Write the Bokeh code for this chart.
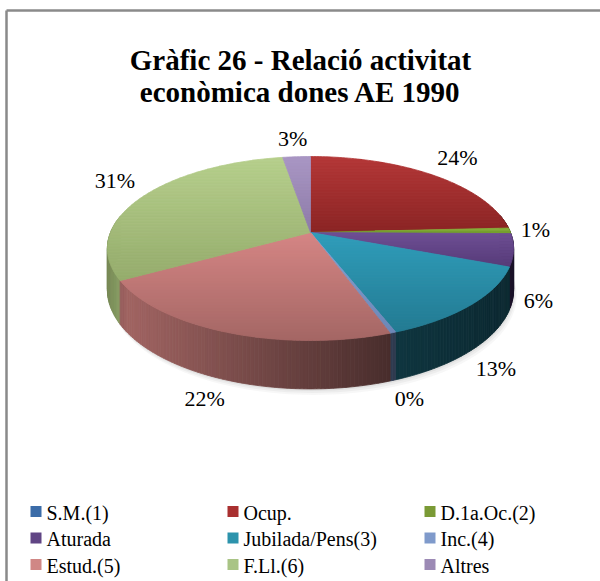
import math
import numpy as np
from bokeh.plotting import figure
from bokeh.models import Range1d
from bokeh.core.properties import value
from bokeh.embed import file_html
from bokeh.resources import INLINE

# ---------------- data ----------------
categories = ["S.M.(1)", "Ocup.", "D.1a.Oc.(2)", "Aturada", "Jubilada/Pens(3)",
              "Inc.(4)", "Estud.(5)", "F.Ll.(6)", "Altres"]
shares = [0.0, 24.2, 1.0, 5.7, 13.3, 0.4, 22.2, 30.6, 2.6]
top_colors = ["#4A7EBB", "#B43737", "#8DB33F", "#6E4E94", "#2F9DBA",
              "#86A2D2", "#D58584", "#B6CF8C", "#A996C4"]
bottom_colors = ["#34609A", "#8A2424", "#6F9A2A", "#553A78", "#227A92",
                 "#6C86B6", "#A46664", "#95AC6C", "#8C7AA8"]
legend_colors = ["#3B6CA8", "#A93030", "#7A9A35", "#604584", "#2C93AC",
                 "#7F9ACB", "#D08785", "#A9C485", "#9C8AB5"]
title_lines = ["Gràfic 26 - Relació activitat", "econòmica dones AE 1990"]

# ---------------- geometry / style ----------------
CX, CY = 310.0, 232.0     # apex of the pie (picture pixels)
R, K, P = 200.0, 89.2, 0.174
DEPTH = 40.0
FONT = "Liberation Serif"
LABEL_FS = 22
LEGEND_FS = 20


def proj(theta_deg, r=1.0, drop=0.0):
    t = math.radians(theta_deg)
    X = r * math.sin(t)
    Z = r * math.cos(t)
    s = 1.0 / (1.0 + P * Z)
    return CX + R * X * s, CY - K * Z * s + drop * s


def hex2rgb(h):
    h = h.lstrip("#")
    return [int(h[i:i + 2], 16) for i in (0, 2, 4)]


def rgb2hex(c):
    return "#%02x%02x%02x" % tuple(int(max(0, min(255, round(v)))) for v in c)


def mix(a, b, t):
    ca, cb = hex2rgb(a), hex2rgb(b)
    return rgb2hex([ca[i] + (cb[i] - ca[i]) * t for i in range(3)])


def scale(a, f):
    return rgb2hex([v * f for v in hex2rgb(a)])


def inter(p1, p2, yc):
    (x1, y1), (x2, y2) = p1, p2
    t = (yc - y1) / (y2 - y1)
    return (x1 + (x2 - x1) * t, yc)


def clip_half(pts, yc, keep_greater):
    out = []
    n = len(pts)
    for i in range(n):
        cur, prev = pts[i], pts[i - 1]
        cin = cur[1] >= yc if keep_greater else cur[1] <= yc
        pin = prev[1] >= yc if keep_greater else prev[1] <= yc
        if cin:
            if not pin:
                out.append(inter(prev, cur, yc))
            out.append(cur)
        elif pin:
            out.append(inter(prev, cur, yc))
    return out


W, H = 600, 581
p = figure(width=W, height=H, x_range=Range1d(0, W), y_range=Range1d(H, 0),
           output_backend="svg", toolbar_location=None, min_border=0,
           x_axis_type=None, y_axis_type=None, title=None)
p.grid.visible = False
p.outline_line_color = None
p.background_fill_color = "white"
p.border_fill_color = "white"

# angles of each slice (clockwise from 12 o'clock)
total = sum(shares)
starts, ends = [], []
acc = 0.0
for v in shares:
    starts.append(acc / total * 360.0)
    acc += v
    ends.append(acc / total * 360.0)

# ---------------- shadow ----------------
ring = [proj(t, 1.0, DEPTH) for t in np.linspace(0, 360, 181)]
for dx, dy, a in [(1, 2, 0.10), (2, 4, 0.08), (3, 6, 0.06)]:
    p.patch([q[0] + dx for q in ring], [q[1] + dy for q in ring],
            fill_color="#7a7a7a", fill_alpha=a, line_color=None)

# ---------------- side walls ----------------
wall = []
for i, v in enumerate(shares):
    if v <= 0:
        continue
    a0, a1 = starts[i], ends[i]
    n = max(2, int(math.ceil((a1 - a0) / 1.0)) + 1)
    ts = np.linspace(a0, a1, n)
    for j in range(n - 1):
        tm = 0.5 * (ts[j] + ts[j + 1])
        zm = math.cos(math.radians(tm))
        if zm > 0.2:
            continue
        t0 = proj(ts[j]); t1 = proj(ts[j + 1])
        b1 = proj(ts[j + 1], 1.0, DEPTH); b0 = proj(ts[j], 1.0, DEPTH)
        xm = 0.5 * (t0[0] + t1[0])
        f = float(np.interp(xm, [107, 128, 250, 390, 513], [0.80, 0.98, 0.72, 0.44, 0.33]))
        wall.append((zm, [t0[0], t1[0], b1[0], b0[0]], [t0[1], t1[1], b1[1], b0[1]],
                     scale(bottom_colors[i], f)))
wall.sort(key=lambda w: -w[0])
p.patches([w[1] for w in wall], [w[2] for w in wall],
          fill_color=[w[3] for w in wall], line_color=[w[3] for w in wall], line_width=0.8)

# ---------------- top faces (vertical gradient bands) ----------------
bx, by, bc = [], [], []
for i, v in enumerate(shares):
    if v <= 0:
        continue
    a0, a1 = starts[i], ends[i]
    n = max(3, int(math.ceil((a1 - a0) / 1.0)) + 1)
    poly = [(CX, CY)] + [proj(t) for t in np.linspace(a0, a1, n)]
    ymin = min(q[1] for q in poly)
    ymax = max(q[1] for q in poly)
    step = 3.0
    yb = ymin
    while yb < ymax:
        band = clip_half(clip_half(poly, yb, True), yb + step, False)
        if len(band) >= 3:
            t = (yb + step / 2 - ymin) / max(1e-6, (ymax - ymin))
            col = mix(top_colors[i], bottom_colors[i], min(1, max(0, t)))
            bx.append([q[0] for q in band]); by.append([q[1] for q in band]); bc.append(col)
        yb += step
p.patches(bx, by, fill_color=bc, line_color=bc, line_width=0.8)

# ---------------- data labels ----------------
lx, ly, lt = [], [], []
for i, v in enumerate(shares):
    if v <= 0:
        continue
    tm = 0.5 * (starts[i] + ends[i])
    t = math.radians(tm)
    X, Z = math.sin(t), math.cos(t)
    f = min(1.0, max(0.0, -Z * 6))
    bxp, byp = proj(tm, 1.0, DEPTH * f)
    nx, ny = X / R, -Z / K
    nn = math.hypot(nx, ny)
    nx, ny = nx / nn, ny / nn
    txt = "%d%%" % int(v / total * 100 + 0.5)
    w = (0.5 * (len(txt) - 1) + 0.833) * LABEL_FS
    h = 0.7 * LABEL_FS
    gap = 11
    x = bxp + gap * nx + math.copysign(w / 2, X) * min(1, abs(X) * 3)
    y = byp + gap * ny - math.copysign(h / 2, Z) * min(1, abs(Z) * 3)
    lx.append(x); ly.append(y); lt.append(txt)
p.text(lx, ly, text=lt, text_font=value(FONT), text_font_size=value("%dpx" % LABEL_FS),
       text_align="center", text_baseline="middle", text_color="#000000")

# ---------------- title ----------------
p.text([300, 300], [59, 91], text=title_lines, text_font=value(FONT),
       text_font_size=value("29px"), text_font_style="bold",
       text_align="center", text_baseline="alphabetic", text_color="#000000")

# ---------------- legend ----------------
sqx, sqy = [], []
for i, c in enumerate(categories):
    col, row = i % 3, i // 3
    sqx.append(35.5 + col * 197)
    sqy.append(511 + row * 26.5)
p.scatter(sqx, sqy, marker="square", size=11, fill_color=legend_colors, line_color=None)
p.text([x + 10.5 for x in sqx], [y + 1 for y in sqy], text=categories, text_font=value(FONT),
       text_font_size=value("%dpx" % LEGEND_FS), text_align="left", text_baseline="middle",
       text_color="#000000")

# ---------------- chart frame ----------------
p.line([6, W], [10, 10], line_color="#8a8a8a", line_width=2.5)
p.line([6, 6], [10, H], line_color="#8a8a8a", line_width=2.5)

open("out.html", "w").write(file_html(p, INLINE))
